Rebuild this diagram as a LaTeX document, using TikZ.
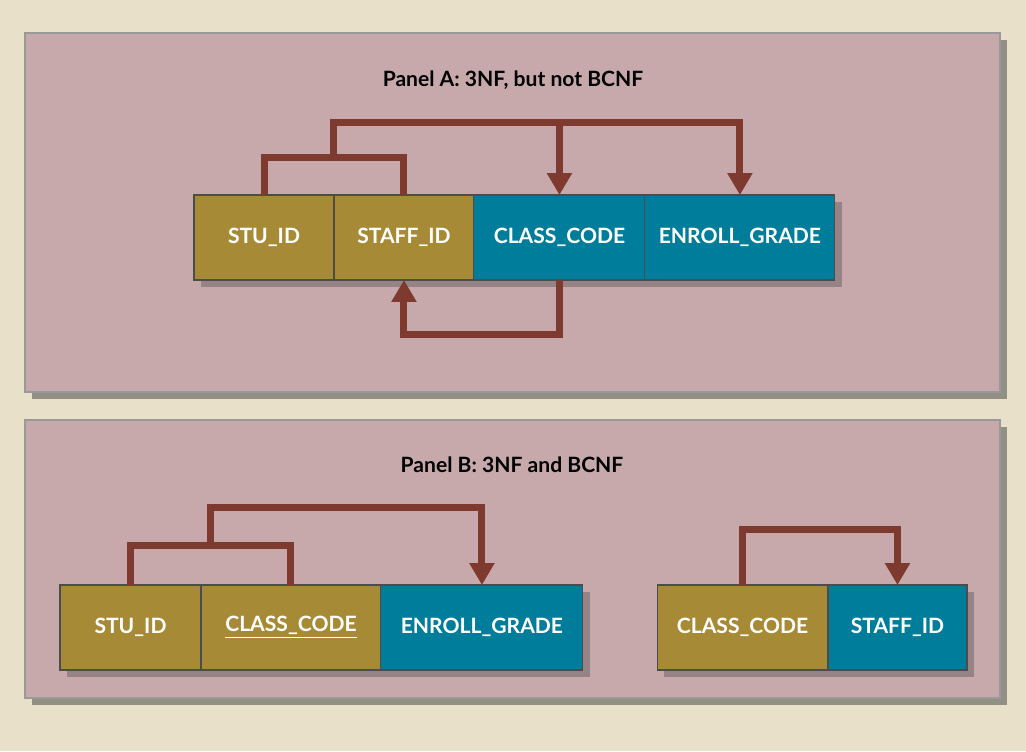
\documentclass[tikz,border=0pt]{standalone}
\usepackage{fontspec}
\setmainfont{Lato}
\definecolor{cream}{HTML}{E9E0C9}
\definecolor{rose}{HTML}{C7A9AB}
\definecolor{keygold}{HTML}{A68A35}
\definecolor{depteal}{HTML}{007D9B}
\definecolor{fdbrown}{HTML}{7F3A2F}
\usetikzlibrary{calc, positioning, arrows.meta, shadows}

\begin{document}
\begin{tikzpicture}[x=0.02cm, y=-0.02cm,
  panel/.style={fill=rose, draw=black!40, line width=0.6pt,
                drop shadow={shadow xshift=4pt, shadow yshift=-4pt, fill=black!65, opacity=0.6}},
  field/.style={minimum height=1.7cm, inner sep=0pt, outer sep=0pt, text=white,
                font=\bfseries\fontsize{12}{14}\selectfont, draw=black!70, line width=0.6pt,
                drop shadow={shadow xshift=4pt, shadow yshift=-4pt, fill=black!70, opacity=0.4}},
  key/.style={field, fill=keygold},
  dep/.style={field, fill=depteal},
  fd/.style={draw=fdbrown, line width=0.14cm},
  fda/.style={fd, -{Triangle[width=0.48cm, length=0.44cm]}},
  ttl/.style={font=\bfseries\fontsize{12}{14}\selectfont},
]
\fill[cream] (0,0) rectangle (1026,751);
\useasboundingbox (0,0) rectangle (1026,751);

% panels
\draw[panel] (25,33) rectangle (1000,392);
\draw[panel] (25,420) rectangle (1000,698);

\node[ttl] (ttlA) at (513,80) {Panel A: 3NF, but not BCNF};
\node[ttl] (ttlB) at (512,465) {Panel B: 3NF and BCNF};

% Panel A
\node[key, minimum width=2.8cm] (stuA) at (264,237.5) {STU\_ID};
\node[key, minimum width=2.8cm, right=0pt of stuA] (stfA) {STAFF\_ID};
\node[dep, minimum width=3.42cm, right=0pt of stfA] (clsA) {CLASS\_CODE};
\node[dep, minimum width=3.8cm, right=0pt of clsA] (enrA) {ENROLL\_GRADE};

\draw[fd] (stuA.north) -- ++(0,-38) coordinate (lkA) -| (stfA.north);
\coordinate (jA) at ($(lkA)!0.5!(lkA -| stfA.north)$);
\draw[fda] (jA) -- ++(0,-35) coordinate (hiA) -| (enrA.north);
\draw[fda] (hiA -| clsA.north) -- (clsA.north);
\draw[fda] (clsA.south) -- ++(0,54) -| (stfA.south);

% Panel B
\node[key, minimum width=2.82cm] (stuB) at (130.5,627.5) {STU\_ID};
\node[key, minimum width=3.6cm, right=0pt of stuB] (clsB) {\underline{CLASS\_CODE}};
\node[dep, minimum width=4.04cm, right=0pt of clsB] (enrB) {ENROLL\_GRADE};

\node[key, minimum width=3.42cm] (clsC) at (742.5,627.5) {CLASS\_CODE};
\node[dep, minimum width=2.78cm, right=0pt of clsC] (stfC) {STAFF\_ID};

\draw[fd] (stuB.north) -- ++(0,-40) coordinate (lkB) -| (clsB.north);
\coordinate (jB) at ($(lkB)!0.5!(lkB -| clsB.north)$);
\draw[fda] (jB) -- ++(0,-38) -| (enrB.north);
\draw[fda] (clsC.north) -- ++(0,-56) -| (stfC.north);

\end{tikzpicture}
\end{document}
